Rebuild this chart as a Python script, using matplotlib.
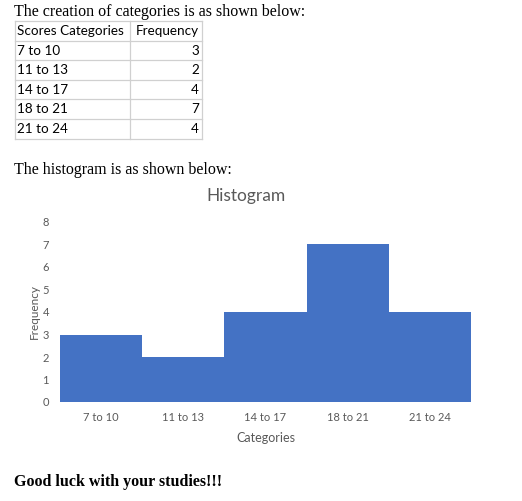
import matplotlib
matplotlib.use("Agg")
import matplotlib.pyplot as plt

categories = ["7 to 10", "11 to 13", "14 to 17", "18 to 21", "21 to 24"]
frequencies = [3, 2, 4, 7, 4]
table_header = ["Scores Categories", "Frequency"]
y_ticks = [0, 1, 2, 3, 4, 5, 6, 7, 8]

W, H = 522, 501
fig = plt.figure(figsize=(W / 100, H / 100), dpi=100)
fig.patch.set_facecolor("white")

# overlay axes in pixel coords
ov = fig.add_axes([0, 0, 1, 1])
ov.set_xlim(0, W)
ov.set_ylim(H, 0)
ov.axis("off")

serif = "Liberation Serif"
sans = "Lato"

ov.text(14, 12, "The creation of categories is as shown below:", family=serif,
        fontsize=11.5, va="center", ha="left")

# table
left, mid, right = 15, 130, 202
row_y = [21, 41, 60, 80, 99, 119, 139]
lc = "#d0d0d0"
for y in row_y:
    ov.plot([left, right], [y, y], color=lc, lw=0.9)
for x in (left, mid, right):
    ov.plot([x, x], [row_y[0], row_y[-1]], color=lc, lw=0.9)
tfs = 9.7
ov.text(left + 2, (row_y[0] + row_y[1]) / 2, table_header[0], family=sans,
        fontsize=tfs, va="center", ha="left")
ov.text(right - 3, (row_y[0] + row_y[1]) / 2, table_header[1], family=sans,
        fontsize=tfs, va="center", ha="right")
for i, (c, f) in enumerate(zip(categories, frequencies)):
    yc = (row_y[i + 1] + row_y[i + 2]) / 2
    ov.text(left + 2, yc, c, family=sans, fontsize=tfs, va="center", ha="left")
    ov.text(right - 3, yc, str(f), family=sans, fontsize=tfs, va="center", ha="right")

ov.text(14, 170, "The histogram is as shown below:", family=serif,
        fontsize=11.5, va="center", ha="left")
ov.text(246, 196, "Histogram", family=sans, fontsize=12.5, color="#595959",
        va="center", ha="center")
ov.text(14, 482, "Good luck with your studies!!!", family=serif, fontsize=11.5,
        fontweight="bold", va="center", ha="left")

# chart
ax = fig.add_axes([60 / W, 1 - 402 / H, (471 - 60) / W, (402 - 222) / H])
x = list(range(len(categories)))
ax.bar(x, frequencies, width=1.0, color="#4472C4", edgecolor="none")
ax.set_xlim(-0.5, len(categories) - 0.5)
ax.set_ylim(0, 8)
ax.set_yticks(y_ticks)
ax.set_yticklabels([str(t) for t in y_ticks], family=sans, fontsize=8, color="#595959")
ax.set_xticks(x)
ax.set_xticklabels(categories, family=sans, fontsize=8, color="#595959")
ax.tick_params(length=0)
ax.tick_params(axis="x", pad=7)
ax.tick_params(axis="y", pad=8)
for s in ax.spines.values():
    s.set_visible(False)
ax.set_xlabel("Categories", family=sans, fontsize=9, color="#595959", labelpad=7)
ax.set_ylabel("Frequency", family=sans, fontsize=8.5, color="#595959", labelpad=2)
ax.patch.set_alpha(0)

fig.savefig("out.png", dpi=100, facecolor="white")
